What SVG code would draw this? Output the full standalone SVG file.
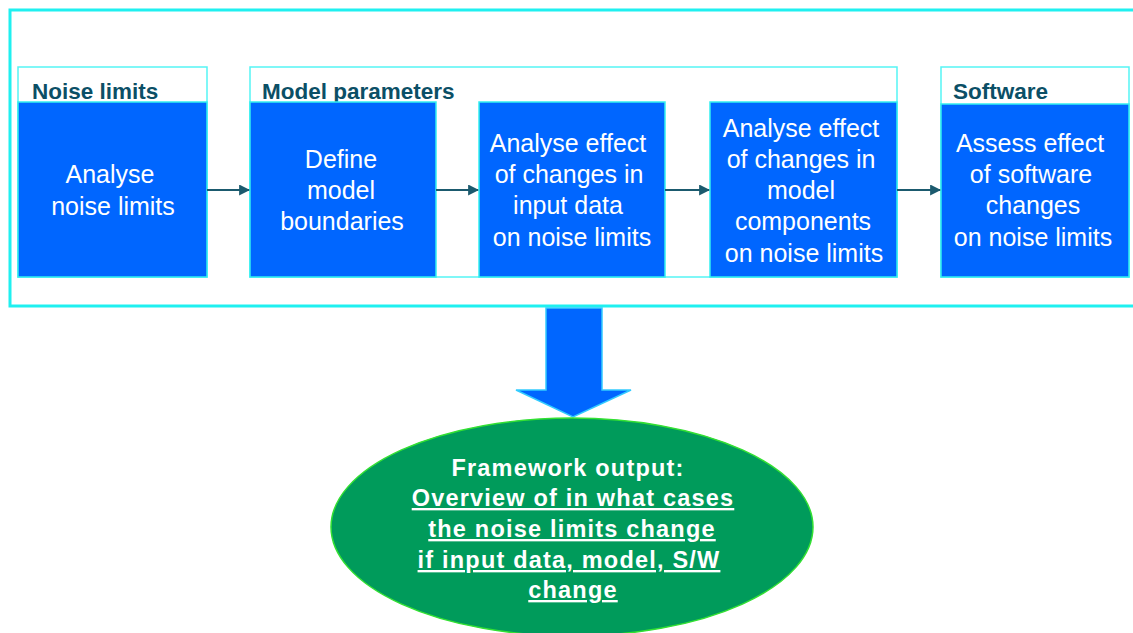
<svg xmlns="http://www.w3.org/2000/svg" width="1133" height="633" viewBox="0 0 1133 633">
<defs>
<style>
.frame{fill:none;stroke:#1ff0f0;stroke-width:3}
.grp{fill:#ffffff;stroke:#55f5f5;stroke-width:1.5}
.box{fill:#0066ff;stroke:#33f0f0;stroke-width:1.5}
.hdr{font-family:"Liberation Sans",Arial,sans-serif;font-weight:bold;font-size:22.5px;fill:#0b4f66}
.bt{font-family:"Liberation Sans",Arial,sans-serif;font-size:25px;fill:#ffffff;text-anchor:middle}
.et{font-family:"Liberation Sans",Arial,sans-serif;font-weight:bold;font-size:23.5px;letter-spacing:1.2px;fill:#ffffff;text-anchor:middle}
.ul{text-decoration:underline}
.conn{stroke:#1b5a6e;stroke-width:2;fill:none;marker-end:url(#ah)}
</style>
<marker id="ah" viewBox="0 0 10 10" refX="9" refY="5" markerWidth="5.5" markerHeight="5.5" orient="auto" markerUnits="strokeWidth">
<path d="M0,0 L10,5 L0,10 z" fill="#1b5a6e"/>
</marker>
</defs>
<rect width="1133" height="633" fill="#ffffff"/>
<rect class="frame" x="10" y="10" width="1140" height="296"/>

<g id="noise-limits">
<rect class="grp" x="18" y="67" width="189" height="210"/>
<text class="hdr" x="32" y="99">Noise limits</text>
<rect class="box" x="18" y="102" width="189" height="175"/>
<text class="bt"><tspan x="110" y="183">Analyse</tspan><tspan x="113" y="215">noise limits</tspan></text>
</g>

<g id="model-parameters">
<rect class="grp" x="250" y="67" width="647" height="210"/>
<text class="hdr" x="262" y="99">Model parameters</text>
</g>

<g id="define-model">
<rect class="box" x="250" y="102" width="186" height="175"/>
<text class="bt"><tspan x="341" y="168">Define</tspan><tspan x="341" y="199">model</tspan><tspan x="342" y="230">boundaries</tspan></text>
</g>

<g id="effect-input">
<rect class="box" x="479" y="102" width="186" height="175"/>
<text class="bt"><tspan x="568" y="152">Analyse effect</tspan><tspan x="569" y="183">of changes in</tspan><tspan x="568" y="214">input data</tspan><tspan x="572" y="246">on noise limits</tspan></text>
</g>

<g id="effect-model">
<rect class="box" x="710" y="102" width="187" height="175"/>
<text class="bt"><tspan x="801" y="137">Analyse effect</tspan><tspan x="801" y="168">of changes in</tspan><tspan x="801" y="199">model</tspan><tspan x="803" y="230">components</tspan><tspan x="804" y="262">on noise limits</tspan></text>
</g>

<g id="software">
<rect class="grp" x="941" y="67" width="188" height="210"/>
<text class="hdr" x="953" y="99">Software</text>
<rect class="box" x="941" y="104" width="188" height="173"/>
<text class="bt"><tspan x="1030" y="152">Assess effect</tspan><tspan x="1031" y="183">of software</tspan><tspan x="1033" y="214">changes</tspan><tspan x="1033" y="246">on noise limits</tspan></text>
</g>

<g id="connectors">
<line class="conn" x1="207" y1="190" x2="249" y2="190"/>
<line class="conn" x1="436" y1="190" x2="478" y2="190"/>
<line class="conn" x1="665" y1="190" x2="709" y2="190"/>
<line class="conn" x1="897" y1="190" x2="940" y2="190"/>
<polygon points="546,308 602,308 602,390 631,390 573,417 516,390 546,390" fill="#0066ff" stroke="#33ccff" stroke-width="1.5"/>
</g>

<g id="framework-output">
<ellipse cx="572" cy="527" rx="241" ry="109" fill="#009b5b" stroke="#33e033" stroke-width="1.5"/>
<text class="et" x="568" y="476">Framework output:</text>
<text class="et ul" x="573" y="506">Overview of in what cases</text>
<text class="et ul" x="572" y="537">the noise limits change</text>
<text class="et ul" x="569" y="568">if input data, model, S/W</text>
<text class="et ul" x="573" y="598">change</text>
</g>
</svg>
